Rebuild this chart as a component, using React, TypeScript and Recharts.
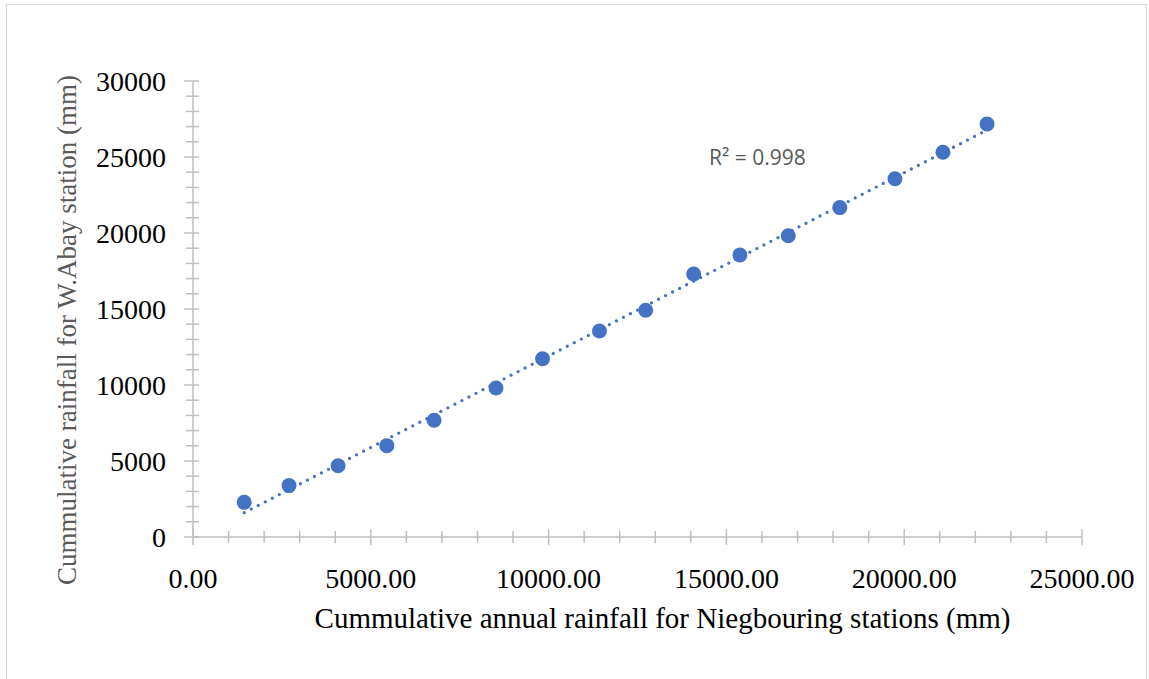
import React from "react";
import { ScatterChart, Scatter, XAxis, YAxis, Label } from "recharts";

// cumulative annual rainfall (mm)
const neighbourRain = [
  1440, 2700, 4080, 5450, 6780, 8520, 9830, 11430, 12730, 14080, 15380, 16740,
  18190, 19740, 21090, 22330,
];
const abayRain = [
  2280, 3380, 4690, 6010, 7680, 9800, 11730, 13550, 14920, 17300, 18550, 19820,
  21670, 23570, 25310, 27170,
];

const xMajor = [0, 5000, 10000, 15000, 20000, 25000];
const yMajor = [0, 5000, 10000, 15000, 20000, 25000, 30000];
const minorStep = 1000;
const r2Label = "R² = 0.998";

const BLUE = "#4472C4";
const AXIS = "#bfbfbf";
const SERIF = "'Liberation Serif', 'Times New Roman', serif";

const minorTicks = (max: number) => {
  const out: number[] = [];
  for (let v = 0; v <= max; v += minorStep) out.push(v);
  return out;
};

const points = neighbourRain.map((x, i) => ({ x, y: abayRain[i] }));

// least-squares linear trendline over the first..last station value
const fitLine = () => {
  const n = points.length;
  const mx = points.reduce((s, p) => s + p.x, 0) / n;
  const my = points.reduce((s, p) => s + p.y, 0) / n;
  let sxy = 0;
  let sxx = 0;
  points.forEach((p) => {
    sxy += (p.x - mx) * (p.y - my);
    sxx += (p.x - mx) * (p.x - mx);
  });
  const slope = sxy / sxx;
  const at = (x: number) => ({ x, y: my + slope * (x - mx) });
  return [at(points[0].x), at(points[n - 1].x)];
};
const trend = fitLine();

const XTick = (props: any) => {
  const { x, y, payload } = props;
  const major = xMajor.includes(payload.value);
  return (
    <g>
      <line
        x1={x}
        x2={x}
        y1={y - (major ? 8 : 6)}
        y2={y + (major ? 8 : 6)}
        stroke={AXIS}
        strokeWidth={1.5}
      />
      {major && (
        <text
          x={x}
          y={y + 51}
          textAnchor="middle"
          fontFamily={SERIF}
          fontSize={28}
          fill="#000"
        >
          {payload.value.toFixed(2)}
        </text>
      )}
    </g>
  );
};

const YTick = (props: any) => {
  const { x, y, payload } = props;
  const major = yMajor.includes(payload.value);
  return (
    <g>
      <line
        x1={x - (major ? 9 : 7)}
        x2={x + 6}
        y1={y}
        y2={y}
        stroke={AXIS}
        strokeWidth={1.5}
      />
      {major && (
        <text
          x={x - 27}
          y={y + 10}
          textAnchor="end"
          fontFamily={SERIF}
          fontSize={28}
          fill="#000"
        >
          {payload.value}
        </text>
      )}
    </g>
  );
};

export default function App() {
  return (
    <div
      style={{
        position: "absolute",
        left: 0,
        top: 0,
        width: 1149,
        height: 679,
        overflow: "hidden",
        background: "#fff",
      }}
    >
      {/* chart frame */}
      <div
        style={{
          position: "absolute",
          left: 6,
          top: 4,
          width: 1139,
          height: 720,
          border: "1.5px solid #d9d9d9",
        }}
      />
      <div style={{ position: "absolute", left: 0, top: 0 }}>
        <ScatterChart
          width={1149}
          height={679}
          margin={{ top: 81, right: 67, bottom: 42, left: 73 }}
        >
          <XAxis
            type="number"
            dataKey="x"
            domain={[0, 25000]}
            ticks={minorTicks(25000)}
            interval={0}
            tick={<XTick />}
            tickLine={false}
            tickSize={0}
            tickMargin={0}
            axisLine={{ stroke: AXIS, strokeWidth: 1.5 }}
            height={100}
          >
            <Label
              value="Cummulative annual rainfall for Niegbouring stations (mm)"
              position="insideTop"
              offset={70}
              dx={25}
              fontFamily={SERIF}
              fontSize={29}
              fill="#000"
            />
          </XAxis>
          <YAxis
            type="number"
            dataKey="y"
            domain={[0, 30000]}
            ticks={minorTicks(30000)}
            interval={0}
            tick={<YTick />}
            tickLine={false}
            tickSize={0}
            tickMargin={0}
            axisLine={{ stroke: AXIS, strokeWidth: 1.5 }}
            width={120}
          >
            <Label
              value="Cummulative rainfall for W.Abay station (mm)"
              position="center"
              angle={-90}
              dx={-67}
              dy={21}
              fontFamily={SERIF}
              fontSize={27}
              fill="#595959"
            />
          </YAxis>
          <Scatter
            data={points}
            isAnimationActive={false}
            shape={(p: any) => (
              <circle cx={p.cx} cy={p.cy} r={7.5} fill={BLUE} />
            )}
          />
          <Scatter
            data={trend}
            isAnimationActive={false}
            line={{
              stroke: BLUE,
              strokeWidth: 3.3,
              strokeDasharray: "0 7.9",
              strokeLinecap: "round",
            }}
            shape={() => <g />}
          />
        </ScatterChart>
      </div>
      <svg
        width={1149}
        height={679}
        style={{ position: "absolute", left: 0, top: 0, pointerEvents: "none" }}
      >
        <text
          x={709}
          y={165}
          fontFamily="'Open Sans', sans-serif"
          fontSize={21}
          fill="#595959"
        >
          {r2Label}
        </text>
      </svg>
    </div>
  );
}
